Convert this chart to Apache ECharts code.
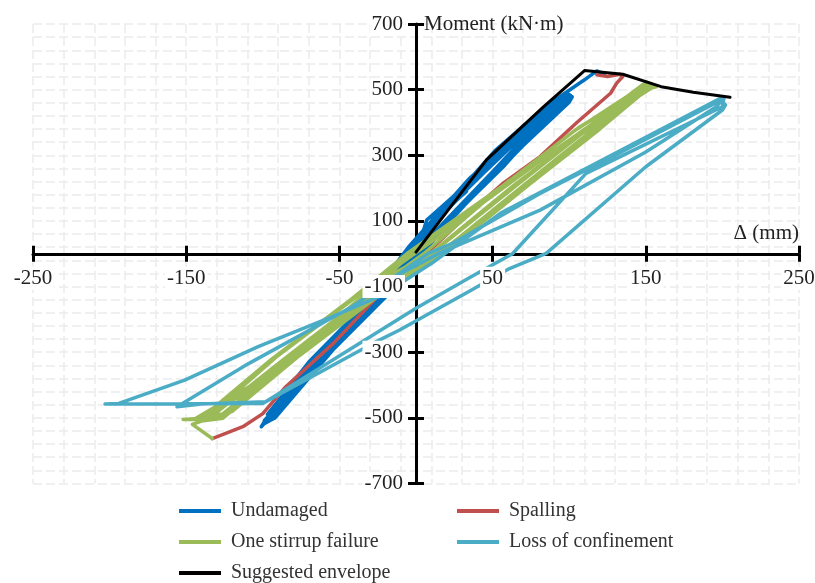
<!DOCTYPE html>
<html>
<head>
<meta charset="utf-8">
<script src="https://cdn.jsdelivr.net/npm/echarts@6/dist/echarts.min.js"></script>
<style>html,body{margin:0;padding:0;background:#fff}#c{width:815px;height:583px}</style>
</head>
<body>
<div id="c"></div>
<script>
// ---- data (Δ in mm, moment in kN·m) ----
const seriesNames = ['Undamaged', 'Spalling', 'One stirrup failure', 'Loss of confinement', 'Suggested envelope'];
const undamaged = [
  [0,0],[7,103],[33,190],[30,178],[8,80],[-8,-20],[-30,-140],[-27,-135],[-10,-60],[0,-10],
  [7,103],[40,240],[70,390],[97,480],[99,472],[70,350],[50,250],[15,80],[0,0],[-20,-100],[-55,-290],[-95,-495],[-97,-490],[-70,-330],[-30,-140],[-13,-40],[0,20],
  [37,235],[60,340],[100,485],[101,470],[66,316],[45,215],[10,40],[-13,-100],[-60,-320],[-101,-527],[-99,-512],[-72,-360],[-40,-190],[-15,-60],[5,60],
  [40,245],[80,420],[102,478],[100,462],[70,330],[30,140],[0,-20],[-30,-160],[-70,-370],[-98,-505],[-96,-498],[-60,-300],[-26,-110],[-5,20],
  [35,230],[75,400],[99,490],[98,478],[62,300],[25,120],[-5,-30],[-40,-210],[-80,-420],[-100,-520],[-94,-505],[-66,-330],[-22,-100],[-8,0],
  [20,150],[55,300],[88,445],[100,475],[96,468],[58,270],[20,95],[-10,-70],[-48,-250],[-90,-470],[-97,-512],[-92,-500],[-50,-270],[-18,-80],[-3,30],
  [45,250],[90,450],[101,482],[97,472],[68,330],[35,165],[5,10],[-25,-130],[-65,-340],[-99,-508],[-95,-500],[-58,-300],[-20,-95],[0,10],
  [30,200],[52,316],[85,450],[110,530],[118,557],[123,547]
];
const spalling = [
  [118,545],[125,540],[133,547],[135,540],[131,520],[127,489],[105,400],[81,296],[57,215],[37,133],
  [0,-30],[-17,-90],[-54,-273],[-85,-405],[-100,-487],[-113,-527],[-133,-563]
];
const stirrupFailure = [
  [-133,-563],[-146,-520],[-140,-510],[-126,-501],[-80,-320],[-29,-141],[15,0],[72,215],[118,387],[146,489],[150,522],[157,509],
  [149,500],[107,387],[59,215],[-6,0],[-43,-141],[-94,-320],[-140,-501],[-152,-505],[-133,-504],
  [-120,-480],[-76,-310],[-25,-130],[18,0],[75,215],[120,380],[152,505],[148,515],
  [138,480],[102,370],[55,200],[-2,10],[-40,-135],[-90,-310],[-136,-497],[-128,-495],
  [-84,-330],[-34,-150],[10,0],[66,210],[112,380],[144,485],[150,524],[156,512],
  [142,470],[100,340],[60,220],[17,60],[-10,-30],[-50,-190],[-100,-380],[-145,-505],[-138,-500],
  [-110,-420],[-60,-240],[-15,-60],[20,20],[70,200],[115,370],[148,505],[153,515],
  [140,478],[95,330],[45,160],[5,0],[-36,-140],[-86,-320],[-132,-490],[-124,-488],
  [-78,-300],[-30,-120],[12,10],[63,205],[110,372],[141,480],[148,500]
];
const lossOfConfinement = [
  [-20,-90],[8,1],[24,32],[81,184],[130,300],[199,468],
  [202,453],[200,438],[150,265],[85,1],[61,-45],[36,-111],[-11,-233],[-24,-263],[-98,-451],[-140,-458],[-156,-466],
  [-109,-334],[-42,-162],[-10,-60],[15,1],[81,133],[150,310],[196,448],[201,474],
  [200,448],[111,245],[63,0],[36,-70],[0,-166],[-100,-456],[-203,-458],
  [-194,-456],[-151,-385],[-103,-283],[-55,-192],[-22,-126],[10,-30],[55,123],[164,389],[199,474]
];
const envelope = [[0,5],[46,286],[83,447],[110,558],[135,547],[160,509],[181,492],[205,477]];
const seriesData = [undamaged, spalling, stirrupFailure, lossOfConfinement, envelope];
const seriesColors = ['#0070C0', '#C0504D', '#9BBB59', '#4BACC6', '#000000'];
const seriesWidths = [3.5, 3.5, 3.5, 3.5, 3];

// axes
const xMin = -250, xMax = 250, xStep = 100;
const yMin = -700, yMax = 700, yStep = 200;
const xName = 'Δ (mm)';
const yName = 'Moment (kN·m)';

const FONT = 'Liberation Serif';
const gridStyle = { color: '#ebebeb', type: [9, 4], width: 1.5 };
const W = 815, H = 583;
const G = { left: 33, right: 16, top: 24, bottom: 99.5 };
const plotW = W - G.left - G.right, plotH = H - G.top - G.bottom;
// overlay axes sit on the zero lines of the base axes
const xZeroFrac = (0 - xMin) / (xMax - xMin);
const yZeroFrac = (yMax - 0) / (yMax - yMin);

const chart = echarts.init(document.getElementById('c'), null, { renderer: 'canvas' });

const baseX = {
  type: 'value', min: xMin, max: xMax, interval: xStep, position: 'bottom',
  axisLine: { show: true, onZero: true, onZeroAxisIndex: 0, lineStyle: { color: '#000', width: 3 } },
  axisTick: { show: true, length: 8, lineStyle: { color: '#000', width: 3 } },
  axisLabel: { show: false },
  splitLine: { show: true, lineStyle: gridStyle },
  minorTick: { show: false, splitNumber: 5 },
  minorSplitLine: { show: true, lineStyle: gridStyle },
  name: xName, nameLocation: 'end', nameGap: 0,
  nameTextStyle: { fontFamily: FONT, fontSize: 21, color: '#222', align: 'right', verticalAlign: 'bottom', padding: [0, 0, 10, 0] }
};
const overX = {
  type: 'value', min: xMin, max: xMax, interval: xStep, position: 'top', z: 10,
  offset: -(plotH * yZeroFrac),
  axisLine: { show: false, onZero: false },
  axisTick: { show: true, length: 8, lineStyle: { color: '#000', width: 3 } },
  axisLabel: { show: true, inside: true, margin: 13, fontFamily: FONT, fontSize: 21, color: '#222',
    backgroundColor: '#fff', padding: [1, 2] },
  splitLine: { show: false }
};
const baseY = {
  type: 'value', min: yMin, max: yMax, interval: yStep, position: 'left',
  axisLine: { show: true, onZero: true, onZeroAxisIndex: 0, lineStyle: { color: '#000', width: 3 } },
  axisTick: { show: true, length: 8, lineStyle: { color: '#000', width: 3 } },
  axisLabel: { show: false },
  splitLine: { show: true, lineStyle: gridStyle },
  minorTick: { show: false, splitNumber: 5 },
  minorSplitLine: { show: true, lineStyle: gridStyle },
  name: yName, nameLocation: 'end', nameGap: 0,
  nameTextStyle: { fontFamily: FONT, fontSize: 21, color: '#222', align: 'left', verticalAlign: 'middle', padding: [0, 0, 0, 8] }
};
const overY = {
  type: 'value', min: yMin, max: yMax, interval: yStep, position: 'right', z: 10,
  offset: -(plotW * (1 - xZeroFrac)),
  axisLine: { show: false, onZero: false },
  axisTick: { show: true, length: 8, lineStyle: { color: '#000', width: 3 } },
  axisLabel: { show: true, inside: true, margin: 11, fontFamily: FONT, fontSize: 21, color: '#222',
    backgroundColor: '#fff', padding: [1, 2] },
  splitLine: { show: false }
};

const legendCommon = {
  orient: 'vertical', icon: 'rect', itemWidth: 42, itemHeight: 4, itemGap: 11, padding: 0, height: 90,
  textStyle: { fontFamily: FONT, fontSize: 20, color: '#333', lineHeight: 20, padding: [0, 0, 0, 5] }
};

const series = seriesNames.map((name, i) => ({
  name: name, type: 'line', data: seriesData[i], xAxisIndex: 0, yAxisIndex: 0,
  showSymbol: false, symbol: 'none', animation: false, clip: false,
  lineStyle: { color: seriesColors[i], width: seriesWidths[i], join: 'round', cap: 'round' },
  itemStyle: { color: seriesColors[i] }
}));

chart.setOption({
  animation: false,
  backgroundColor: '#fff',
  grid: { left: G.left, right: G.right, top: G.top, bottom: G.bottom, containLabel: false, outerBoundsMode: 'none' },
  xAxis: [baseX, overX],
  yAxis: [baseY, overY],
  legend: [
    Object.assign({}, legendCommon, { data: [seriesNames[0], seriesNames[2], seriesNames[4]], left: 179, top: 501 }),
    Object.assign({}, legendCommon, { data: [seriesNames[1], seriesNames[3]], left: 457, top: 501 })
  ],
  series: series
});
</script>
</body>
</html>
